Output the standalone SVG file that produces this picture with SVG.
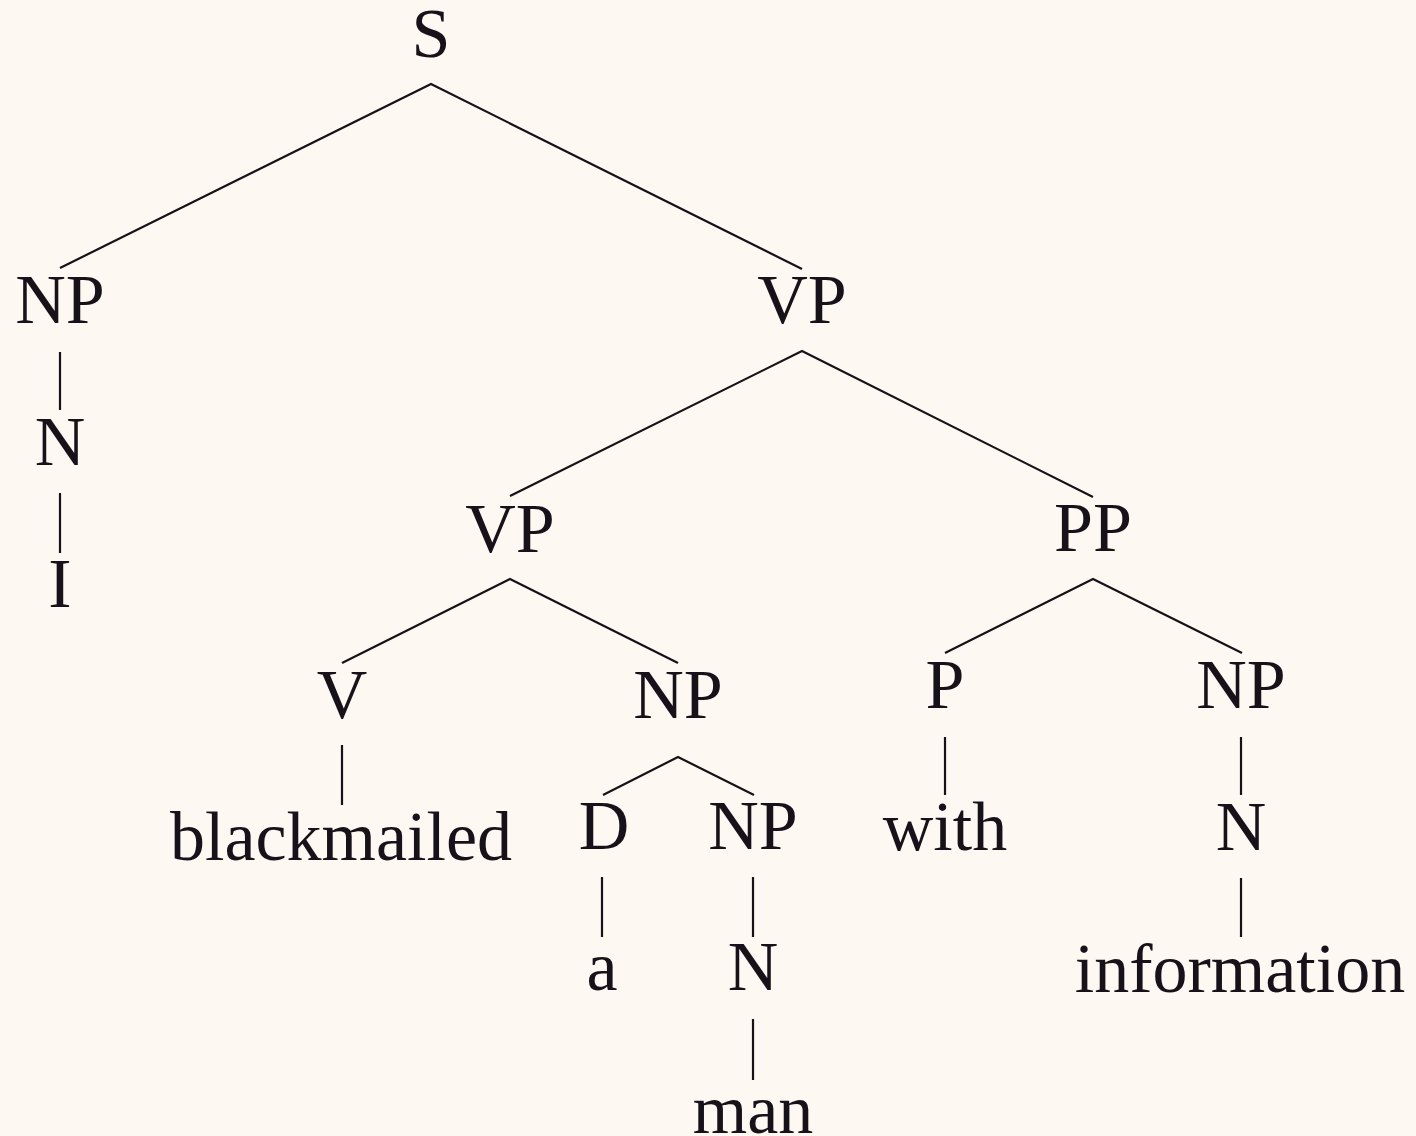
<svg xmlns="http://www.w3.org/2000/svg" width="1416" height="1136" viewBox="0 0 1416 1136">
<style>
.t{font-family:"Liberation Serif","Times New Roman",serif;font-size:70px;fill:#17121a;text-anchor:middle}
.e{stroke:#17121a;stroke-width:2.2;fill:none;stroke-linecap:butt}
</style>
<rect width="1416" height="1136" fill="#fdf8f1"/>
<g id="edges">
<polyline class="e" points="60,268 431,84 802,269"/>
<line class="e" x1="60" y1="352" x2="60" y2="410"/>
<line class="e" x1="60" y1="493" x2="60" y2="553"/>
<polyline class="e" points="510,496 802,351 1093,497"/>
<polyline class="e" points="342,663 510,579 678,663"/>
<polyline class="e" points="945,653 1093,579 1242,653"/>
<line class="e" x1="342" y1="745" x2="342" y2="805"/>
<polyline class="e" points="603,795 678,757 754,795"/>
<line class="e" x1="602" y1="877" x2="602" y2="937"/>
<line class="e" x1="753" y1="877" x2="753" y2="937"/>
<line class="e" x1="753" y1="1019" x2="753" y2="1080"/>
<line class="e" x1="945" y1="737" x2="945" y2="795"/>
<line class="e" x1="1241" y1="737" x2="1241" y2="795"/>
<line class="e" x1="1241" y1="878" x2="1241" y2="937"/>
</g>
<g id="n-S"><text class="t" x="431" y="57">S</text></g>
<g id="n-NP1"><text class="t" x="60" y="323">NP</text></g>
<g id="n-N1"><text class="t" x="60" y="465">N</text></g>
<g id="n-I"><text class="t" x="60" y="607">I</text></g>
<g id="n-VP1"><text class="t" x="802" y="323">VP</text></g>
<g id="n-VP2"><text class="t" x="510" y="552">VP</text></g>
<g id="n-PP"><text class="t" x="1093" y="551">PP</text></g>
<g id="n-V"><text class="t" x="342" y="718">V</text></g>
<g id="n-NP2"><text class="t" x="678" y="718">NP</text></g>
<g id="n-P"><text class="t" x="945" y="708">P</text></g>
<g id="n-NP3"><text class="t" x="1241" y="708">NP</text></g>
<g id="n-blackmailed"><text class="t" x="341" y="860">blackmailed</text></g>
<g id="n-D"><text class="t" x="604" y="849">D</text></g>
<g id="n-NP4"><text class="t" x="753" y="849">NP</text></g>
<g id="n-with"><text class="t" x="945" y="850">with</text></g>
<g id="n-N2"><text class="t" x="1241" y="850">N</text></g>
<g id="n-a"><text class="t" x="602" y="990">a</text></g>
<g id="n-N3"><text class="t" x="753" y="990">N</text></g>
<g id="n-information"><text class="t" x="1240" y="992">information</text></g>
<g id="n-man"><text class="t" x="753" y="1133">man</text></g>
</svg>
